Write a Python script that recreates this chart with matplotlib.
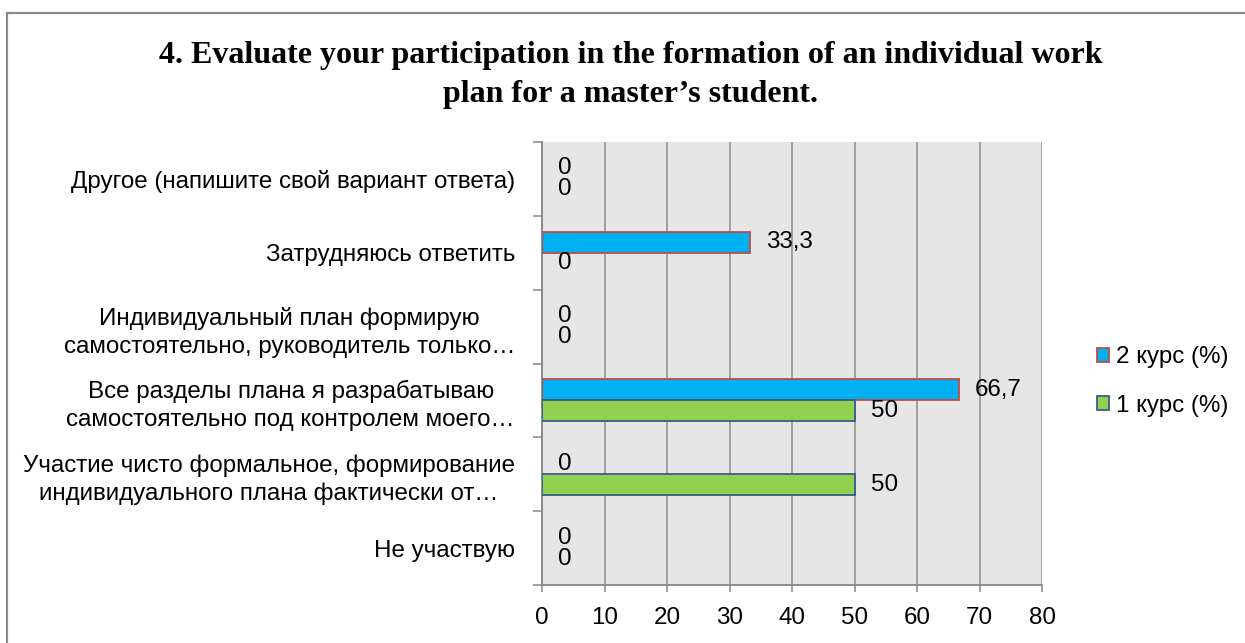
import numpy as np
import matplotlib
matplotlib.use("Agg")
import matplotlib.pyplot as plt
from matplotlib.lines import Line2D
from matplotlib.patches import Patch

plt.rcParams['font.family'] = ['Liberation Sans', 'DejaVu Sans']

# категории сверху вниз, как на картинке
categories = [
    "Другое (напишите свой вариант ответа)",
    "Затрудняюсь ответить",
    "Индивидуальный план формирую\nсамостоятельно, руководитель только…",
    "Все разделы плана я разрабатываю\nсамостоятельно под контролем моего…",
    "Участие чисто формальное, формирование\nиндивидуального плана фактически от…",
    "Не участвую",
]
course2 = [0, 33.3, 0, 66.7, 0, 0]   # 2 курс (%)
course1 = [0, 0, 0, 50, 50, 0]       # 1 курс (%)
series_names = ["2 курс (%)", "1 курс (%)"]
xticks = [0, 10, 20, 30, 40, 50, 60, 70, 80]

title1 = "4. Evaluate your participation in the formation of an individual work"
title2 = "plan for a master\u2019s student."

blue = "#00b0f0"
blue_edge = "#be4b48"
green = "#92d050"
green_edge = "#385d8a"
axis_gray = "#868686"
fs = 17.4

fig = plt.figure(figsize=(12.45, 6.43), dpi=100)
ax = fig.add_axes([542 / 1245, 1 - 585 / 643, 500 / 1245, 443 / 643])
ax.set_facecolor("#e6e6e6")

n = len(categories)
pos = np.arange(n)[::-1]  # первая категория сверху
h = 0.285

ax.barh(pos + h / 2, course2, height=h, color=blue, edgecolor=blue_edge,
        linewidth=[1.3 if v else 0 for v in course2], zorder=3)
ax.barh(pos - h / 2, course1, height=h, color=green, edgecolor=green_edge,
        linewidth=[1.3 if v else 0 for v in course1], zorder=3)

# подписи значений
for vals, off in ((course2, h / 2), (course1, -h / 2)):
    for p, v in zip(pos, vals):
        txt = ("%g" % v).replace(".", ",")
        ax.annotate(txt, (v, p + off), xytext=(16, 0), textcoords="offset pixels",
                    ha="left", va="center", fontsize=fs, zorder=4)

ax.set_xlim(0, 80)
ax.set_ylim(-0.5, n - 0.5)
ax.set_xticks(xticks)
ax.xaxis.grid(True, color="#8c8c8c", linewidth=1.1, zorder=1)
ax.set_axisbelow(True)

ax.set_yticks(pos)
ax.set_yticklabels(categories, fontsize=fs)
for lbl in ax.get_yticklabels():
    lbl.set_multialignment("center")
    lbl.set_linespacing(1.35)
ax.set_yticks(np.arange(-0.5, n, 1.0), minor=True)
ax.tick_params(axis="y", which="major", length=0, pad=19.5)
ax.tick_params(axis="y", which="minor", length=6.5, width=1.1, color=axis_gray, direction="out")
ax.tick_params(axis="x", length=5, width=1.1, color=axis_gray, direction="out", pad=11, labelsize=fs)

for s in ("top", "right"):
    ax.spines[s].set_visible(False)
for s in ("left", "bottom"):
    ax.spines[s].set_color(axis_gray)
    ax.spines[s].set_linewidth(1.3)

# заголовок
fig.text(631 / 1245, 1 - 63 / 643, title1, ha="center", va="baseline",
         fontsize=23, fontweight="bold", family="Liberation Serif")
fig.text(631 / 1245, 1 - 102 / 643, title2, ha="center", va="baseline",
         fontsize=23, fontweight="bold", family="Liberation Serif")

# легенда
handles = [Patch(facecolor=blue, edgecolor=blue_edge, linewidth=1.3),
           Patch(facecolor=green, edgecolor=green_edge, linewidth=1.3)]
fig.legend(handles, series_names, loc="center left",
           bbox_to_anchor=(1097 / 1245, 1 - 381.5 / 643), frameon=False,
           fontsize=fs, handlelength=0.5, handleheight=0.5, handletextpad=0.3,
           labelspacing=1.1, borderpad=0, borderaxespad=0)

# рамка диаграммы
fig.add_artist(Line2D([7 / 1245, 7 / 1245], [0, 1 - 13 / 643], transform=fig.transFigure,
                      color="#8a8a8a", linewidth=1.6))
fig.add_artist(Line2D([7 / 1245, 1], [1 - 13 / 643, 1 - 13 / 643], transform=fig.transFigure,
                      color="#8a8a8a", linewidth=1.6))

fig.savefig("out.png", dpi=100)
